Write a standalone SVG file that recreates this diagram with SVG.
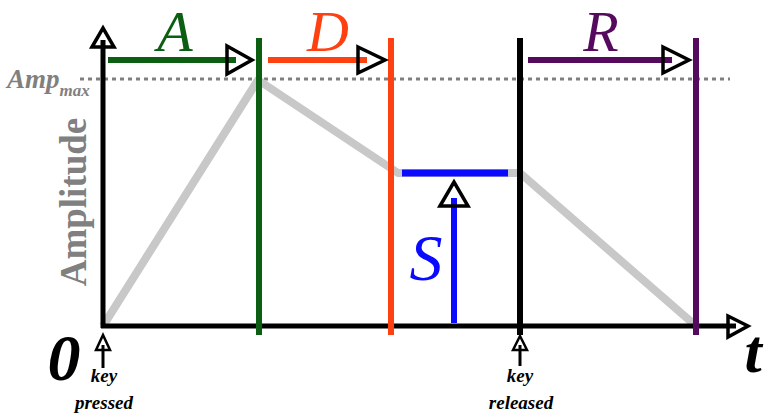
<svg xmlns="http://www.w3.org/2000/svg" width="770" height="419" viewBox="0 0 770 419" font-family="Times New Roman">
<rect width="770" height="419" fill="#fff"/>
<g id="grid">
<line x1="80" y1="79" x2="730" y2="79" stroke="#808080" stroke-width="3" stroke-dasharray="4 4"/>
</g>
<g id="envelope">
<polyline points="103,326 258,80 398,173 520,173 696,326" fill="none" stroke="#c8c8c8" stroke-width="8" stroke-linejoin="round"/>
</g>
<g id="axes" fill="none" stroke="#000">
<line x1="103" y1="328" x2="103" y2="40" stroke-width="5"/>
<polygon points="92,47 103,28 114,47" stroke-width="3.5"/>
<line x1="101" y1="326" x2="736" y2="326" stroke-width="5"/>
<polygon points="728,316 748,326 728,337" stroke-width="3.5"/>
</g>
<g id="bars" stroke-width="6">
<line x1="259" y1="38" x2="259" y2="335" stroke="#0b5e12"/>
<line x1="391" y1="38" x2="391" y2="335" stroke="#ff4010"/>
<line x1="520" y1="38" x2="520" y2="335" stroke="#000"/>
<line x1="696" y1="38" x2="696" y2="335" stroke="#550a5e"/>
</g>
<g id="connectors">
<line x1="108" y1="60" x2="236" y2="60" stroke="#0b5e12" stroke-width="6"/>
<polygon points="227,46 252,60 227,74" fill="none" stroke="#000" stroke-width="3.5"/>
<line x1="268" y1="60" x2="367" y2="60" stroke="#ff4010" stroke-width="6"/>
<polygon points="358,47 385,60 358,73" fill="none" stroke="#000" stroke-width="3.5"/>
<line x1="528" y1="60" x2="672" y2="60" stroke="#550a5e" stroke-width="6"/>
<polygon points="663,47 689,60 663,73" fill="none" stroke="#000" stroke-width="3.5"/>
<line x1="402" y1="173" x2="508" y2="173" stroke="#0a0aff" stroke-width="7"/>
<line x1="454" y1="323" x2="454" y2="198" stroke="#0a0aff" stroke-width="6"/>
<polygon points="440,206 454,182 468,206" fill="none" stroke="#000" stroke-width="3.5"/>
<line x1="103" y1="368" x2="103" y2="345" stroke="#000" stroke-width="3"/>
<polygon points="96,350 103,335 110,350" fill="none" stroke="#000" stroke-width="2.5"/>
<line x1="520" y1="366" x2="520" y2="345" stroke="#000" stroke-width="3"/>
<polygon points="513,350 520,336 527,350" fill="none" stroke="#000" stroke-width="2.5"/>
</g>
<text font-family="Times New Roman" font-style="italic" font-size="58" text-anchor="middle" x="175" y="51" fill="#0b5e12">A</text>
<text font-family="Times New Roman" font-style="italic" font-size="58" text-anchor="middle" x="328" y="51" fill="#ff4010">D</text>
<text font-family="Times New Roman" font-style="italic" font-size="58" text-anchor="middle" x="601" y="51" fill="#550a5e">R</text>
<text font-family="Times New Roman" font-style="italic" font-size="66" text-anchor="middle" x="426" y="280" fill="#0a0aff">S</text>
<text font-family="Times New Roman" x="7" y="88" font-style="italic" font-weight="bold" font-size="27" fill="#808080">Amp<tspan font-size="17" dy="8">max</tspan></text>
<text font-family="Times New Roman" transform="translate(86,202) rotate(-90)" font-weight="bold" font-size="37" fill="#808080" text-anchor="middle">Amplitude</text>
<text font-family="Times New Roman" x="64" y="380" font-style="italic" font-weight="bold" font-size="66" text-anchor="middle">0</text>
<text font-family="Times New Roman" x="753" y="372" font-style="italic" font-weight="bold" font-size="62" text-anchor="middle">t</text>
<text font-family="Times New Roman" font-style="italic" font-weight="bold" font-size="19" text-anchor="middle" x="104" y="382">key</text>
<text font-family="Times New Roman" font-style="italic" font-weight="bold" font-size="19" text-anchor="middle" x="104" y="409">pressed</text>
<text font-family="Times New Roman" font-style="italic" font-weight="bold" font-size="19" text-anchor="middle" x="520" y="382">key</text>
<text font-family="Times New Roman" font-style="italic" font-weight="bold" font-size="19" text-anchor="middle" x="521" y="409">released</text>
</svg>
